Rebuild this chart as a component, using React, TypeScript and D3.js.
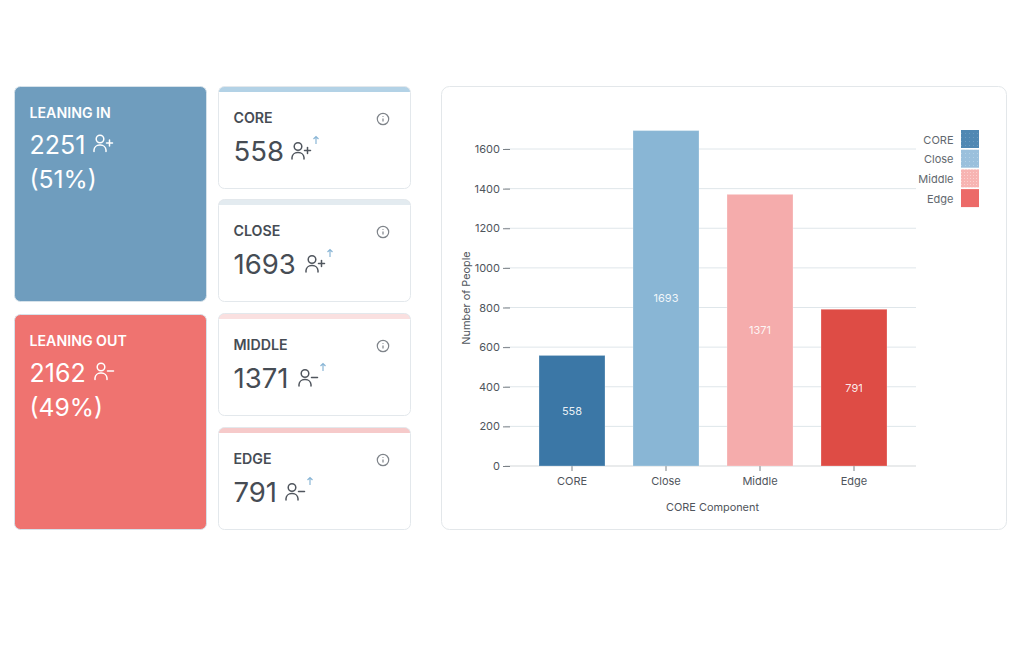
import React, { useEffect, useRef } from "react";
import * as d3 from "d3";

const categories = ["CORE", "Close", "Middle", "Edge"];
const counts = [558, 1693, 1371, 791];
const barColors = ["#3b77a6", "#89b6d5", "#f5acac", "#de4c45"];
const legendColors = ["#5088b3", "#9bc0dc", "#f7b4b2", "#ec6a68"];
const legendMarks = ["#6d9cc0", "#b3d1e6", "#fbd0ce", "#ec6a68"];
const yTicks = [0, 200, 400, 600, 800, 1000, 1200, 1400, 1600];

const cardTitles = ["CORE", "CLOSE", "MIDDLE", "EDGE"];
const cardTops = [86, 199, 313, 427];
const cardStripes = ["#b3d2e6", "#e3ebf0", "#fae0e0", "#f6caca"];
const cardKinds = ["+", "+", "-", "-"];
const cardIconX = [291, 305, 298, 285];
const font = "Inter, 'Noto Sans', sans-serif";

const Person = ({ x, y, kind, color, s = 1 }: any) => (
  <g transform={`translate(${x},${y}) scale(${s})`} fill="none" stroke={color} strokeWidth={1.5} strokeLinecap="round">
    <circle cx={7} cy={4.5} r={3.8} />
    <path d="M1 17 v-1.5 a5.5 5.5 0 0 1 5.5-5 h1 a5.5 5.5 0 0 1 5.5 5 v1.5" />
    <path d="M13.5 8.5 h6" />
    {kind === "+" && <path d="M16.5 5.5 v6" />}
  </g>
);

const BigCard = ({ y, h, fill, title, value, pct, kind, iconX }: any) => (
  <g>
    <rect x={14.5} y={y + 0.5} width={192} height={h} rx={6} fill={fill} stroke="#d6e2ea" />
    <text x={29.5} y={y + 31.5} fontSize={14.2} fontWeight={600} fill="#fff" fontFamily={font}>{title}</text>
    <text x={29.5} y={y + 68} fontSize={25} fill="#fff" fontFamily={font}>{value}</text>
    <text x={29.5} y={y + 102.3} fontSize={24.7} fill="#fff" fontFamily={font}>{pct}</text>
    <Person x={iconX} y={y + 48.5} kind={kind} color="#fff" />
  </g>
);

const SmallCard = ({ i }: { i: number }) => {
  const y = cardTops[i];
  const id = `clip${i}`;
  const ix = cardIconX[i];
  return (
    <g>
      <clipPath id={id}><rect x={218.5} y={y + 0.5} width={192} height={102} rx={6} /></clipPath>
      <rect x={218.5} y={y + 0.5} width={192} height={102} rx={6} fill="#fff" />
      <rect x={218.5} y={y} width={192} height={6} fill={cardStripes[i]} clipPath={`url(#${id})`} />
      <rect x={218.5} y={y + 0.5} width={192} height={102} rx={6} fill="none" stroke="#e3e8ec" />
      <text x={233.5} y={y + 37} fontSize={14.2} fontWeight={600} fill="#464c54" fontFamily={font}>{cardTitles[i]}</text>
      <text x={233.5} y={y + 75} fontSize={27.5} fill="#464c54" fontFamily={font}>{counts[i]}</text>
      <Person x={ix} y={y + 56} kind={cardKinds[i]} color="#50565e" />
      <g stroke="#8ab6d6" strokeWidth={1.2} fill="none">
        <path d={`M${ix + 25} ${y + 58} v-7 M${ix + 22.5} ${y + 53} l2.5 -2.5 l2.5 2.5`} />
      </g>
      <g>
        <circle cx={383} cy={y + 33} r={5.7} fill="none" stroke="#7f848a" strokeWidth={1.2} />
        <path d={`M383 ${y + 32.5} v3 M383 ${y + 30.2} v0.7`} stroke="#7f848a" strokeWidth={1.2} />
      </g>
    </g>
  );
};

export default function App() {
  const axes = useRef<SVGGElement>(null);
  const x = d3.scaleBand<string>().domain(categories).range([525, 901]).paddingInner(0.298).paddingOuter(0.149);
  const y = d3.scaleLinear().domain([0, 1600]).range([466, 149]);

  useEffect(() => {
    const root = d3.select(axes.current!);
    root.selectAll("*").remove();
    const ya = root.append("g").attr("transform", "translate(510,0)")
      .call(d3.axisLeft(y).tickValues(yTicks).tickFormat(d3.format("d") as any).tickSize(7).tickPadding(3));
    const xa = root.append("g").attr("transform", "translate(0,466)")
      .call(d3.axisBottom(x).tickSize(5).tickPadding(6));
    for (const a of [ya, xa]) {
      a.select(".domain").remove();
      a.selectAll("line").attr("stroke", "#7b8187");
      a.selectAll("text").attr("fill", "#4f555c").attr("font-size", 11).attr("font-family", font);
    }
  }, []);

  return (
    <svg width={1024} height={657} style={{ position: "absolute", left: 0, top: 0, background: "#fff" }}>
      <defs>
        {categories.map((c, i) => (
          <pattern key={c} id={`lg${i}`} width={i === 2 ? 3 : 4} height={i === 2 ? 3 : 4} patternUnits="userSpaceOnUse">
            <rect width={4} height={4} fill={legendColors[i]} />
            <rect width={1} height={1} x={1} y={1} fill={legendMarks[i]} />
          </pattern>
        ))}
      </defs>
      <BigCard y={86} h={215} fill="#6f9dbe" title="LEANING IN" value="2251" pct="(51%)" kind="+" iconX={93} />
      <BigCard y={314} h={215} fill="#ef7370" title="LEANING OUT" value="2162" pct="(49%)" kind="-" iconX={94} />
      {cardTitles.map((_, i) => <SmallCard key={i} i={i} />)}

      <rect x={441.5} y={86.5} width={565} height={443} rx={8} fill="#fff" stroke="#e3e7ea" />
      {yTicks.map(t => (
        <line key={t} x1={505} x2={916} y1={y(t)} y2={y(t)} stroke={t === 0 ? "#e2e4e6" : "#dfe6ea"} strokeWidth={t === 0 ? 1.5 : 1} />
      ))}
      <g ref={axes} />
      {categories.map((c, i) => (
        <g key={c}>
          <rect x={x(c)} y={y(counts[i])} width={x.bandwidth()} height={466 - y(counts[i])} fill={barColors[i]} stroke="#fff" strokeOpacity={0.25} strokeWidth={1} />
          <text x={x(c)! + x.bandwidth() / 2} y={(y(counts[i]) + 466) / 2 + 4} textAnchor="middle" fontSize={11} fill="#fff" fillOpacity={0.9} fontFamily={font}>{counts[i]}</text>
        </g>
      ))}
      <text x={712.5} y={511} textAnchor="middle" fontSize={10.9} fill="#4f555c" fontFamily={font}>CORE Component</text>
      <text transform="translate(470,298) rotate(-90)" textAnchor="middle" fontSize={10.9} fill="#4f555c" fontFamily={font}>Number of People</text>
      {categories.map((c, i) => (
        <g key={c}>
          <text x={953.5} y={143.5 + i * 19.7} textAnchor="end" fontSize={11} fill="#62686e" fontFamily={font}>{c}</text>
          <rect x={961} y={130 + i * 19.7} width={18} height={18} fill={`url(#lg${i})`} />
        </g>
      ))}
    </svg>
  );
}
